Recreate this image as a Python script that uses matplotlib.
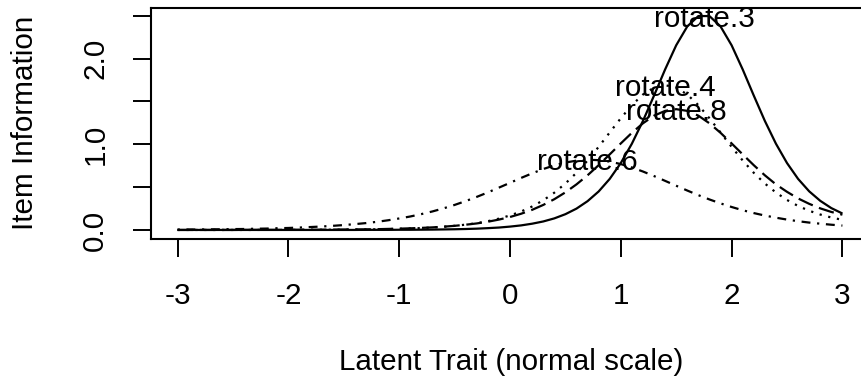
import matplotlib
matplotlib.use("Agg")
import matplotlib.pyplot as plt
import numpy as np

# latent trait grid, -3 to 3 in steps of 0.1
theta = np.round(np.linspace(-3, 3, 61), 1)

# item information per item along the grid
rotate_3 = [0.000, 0.000, 0.000, 0.000, 0.000, 0.000, 0.000, 0.000, 0.000, 0.000,
            0.000, 0.000, 0.000, 0.000, 0.000, 0.000, 0.000, 0.001, 0.001, 0.001,
            0.002, 0.002, 0.003, 0.004, 0.006, 0.008, 0.011, 0.015, 0.021, 0.028,
            0.039, 0.053, 0.073, 0.099, 0.135, 0.184, 0.249, 0.336, 0.449, 0.596,
            0.781, 1.007, 1.273, 1.569, 1.874, 2.156, 2.376, 2.497, 2.497, 2.376,
            2.156, 1.874, 1.569, 1.273, 1.007, 0.781, 0.596, 0.451, 0.340, 0.255,
            0.192]
rotate_4 = [0.000, 0.000, 0.000, 0.000, 0.000, 0.000, 0.000, 0.000, 0.001, 0.001,
            0.001, 0.001, 0.002, 0.002, 0.003, 0.004, 0.005, 0.006, 0.008, 0.010,
            0.013, 0.017, 0.022, 0.029, 0.037, 0.048, 0.062, 0.079, 0.102, 0.132,
            0.169, 0.215, 0.274, 0.346, 0.435, 0.542, 0.667, 0.811, 0.970, 1.138,
            1.304, 1.457, 1.581, 1.662, 1.690, 1.662, 1.581, 1.457, 1.304, 1.138,
            0.970, 0.811, 0.667, 0.542, 0.437, 0.350, 0.280, 0.224, 0.180, 0.145,
            0.118]
rotate_6 = [0.004, 0.005, 0.006, 0.007, 0.008, 0.010, 0.011, 0.014, 0.016, 0.020,
            0.023, 0.028, 0.034, 0.040, 0.048, 0.057, 0.068, 0.080, 0.095, 0.113,
            0.134, 0.157, 0.185, 0.216, 0.252, 0.292, 0.337, 0.386, 0.438, 0.494,
            0.550, 0.607, 0.661, 0.711, 0.754, 0.787, 0.809, 0.819, 0.815, 0.798,
            0.769, 0.729, 0.682, 0.629, 0.573, 0.516, 0.460, 0.406, 0.356, 0.310,
            0.268, 0.230, 0.197, 0.168, 0.143, 0.121, 0.102, 0.086, 0.073, 0.061,
            0.051]
rotate_8 = [0.000, 0.000, 0.000, 0.000, 0.000, 0.000, 0.001, 0.001, 0.001, 0.001,
            0.001, 0.002, 0.002, 0.003, 0.004, 0.005, 0.006, 0.007, 0.009, 0.012,
            0.015, 0.019, 0.024, 0.030, 0.038, 0.048, 0.061, 0.076, 0.096, 0.121,
            0.151, 0.189, 0.235, 0.292, 0.359, 0.439, 0.532, 0.638, 0.756, 0.882,
            1.010, 1.134, 1.245, 1.334, 1.390, 1.410, 1.390, 1.334, 1.245, 1.134,
            1.010, 0.882, 0.756, 0.638, 0.532, 0.445, 0.368, 0.305, 0.252, 0.210,
            0.178]

item_names = ["rotate.3", "rotate.4", "rotate.6", "rotate.8"]
item_info = [rotate_3, rotate_4, rotate_6, rotate_8]

x_ticks = [-3, -2, -1, 0, 1, 2, 3]
y_ticks = [0.0, 0.5, 1.0, 1.5, 2.0, 2.5]
y_tick_labels = ["0.0", "", "1.0", "", "2.0", ""]

# R line types: solid, dotted, dotdash, longdash
line_types = ["-", (0, (1, 3)), (0, (1, 3, 4, 3)), (0, (7, 3))]

FONT_SIZE = 21.3
LW = 1.6

plt.rcParams["font.family"] = ["Liberation Sans", "DejaVu Sans"]
plt.rcParams["font.size"] = FONT_SIZE

fig = plt.figure(figsize=(8.61, 3.84), dpi=100)
ax = fig.add_axes([151 / 861, 1 - 238.5 / 384, (869 - 151) / 861, (238.5 - 7.5) / 384])

for name, info, lt in zip(item_names, item_info, line_types):
    info = np.asarray(info)
    ax.plot(theta, info, color="black", lw=LW, linestyle=lt, solid_capstyle="butt", dash_capstyle="butt")
    # label sits on the peak of each curve
    peak_at = theta[np.flatnonzero(info == info.max())].mean()
    ax.annotate(name, xy=(peak_at, info.max()), xytext=(0, -7.6), textcoords="offset points",
                ha="center", va="baseline", fontsize=FONT_SIZE)

ymax = max(max(v) for v in item_info)
ax.set_xlim(-3 - 0.24, 3 + 0.24)
ax.set_ylim(-0.04 * ymax, 1.04 * ymax)

ax.set_xticks(x_ticks)
ax.set_xticklabels([str(t) for t in x_ticks])
ax.set_yticks(y_ticks)
ax.set_yticklabels(y_tick_labels, rotation=90, va="center")
ax.tick_params(axis="x", length=13, width=1.4, pad=18.5)
ax.tick_params(axis="y", length=13, width=1.4, pad=17)
for spine in ax.spines.values():
    spine.set_linewidth(1.5)

fig.text(511 / 861, 1 - 370 / 384, "Latent Trait (normal scale)", ha="center", va="baseline")
fig.text(25 / 861, 1 - 123 / 384, "Item Information", rotation=90, ha="center", va="center")

fig.savefig("out.png", dpi=100)
